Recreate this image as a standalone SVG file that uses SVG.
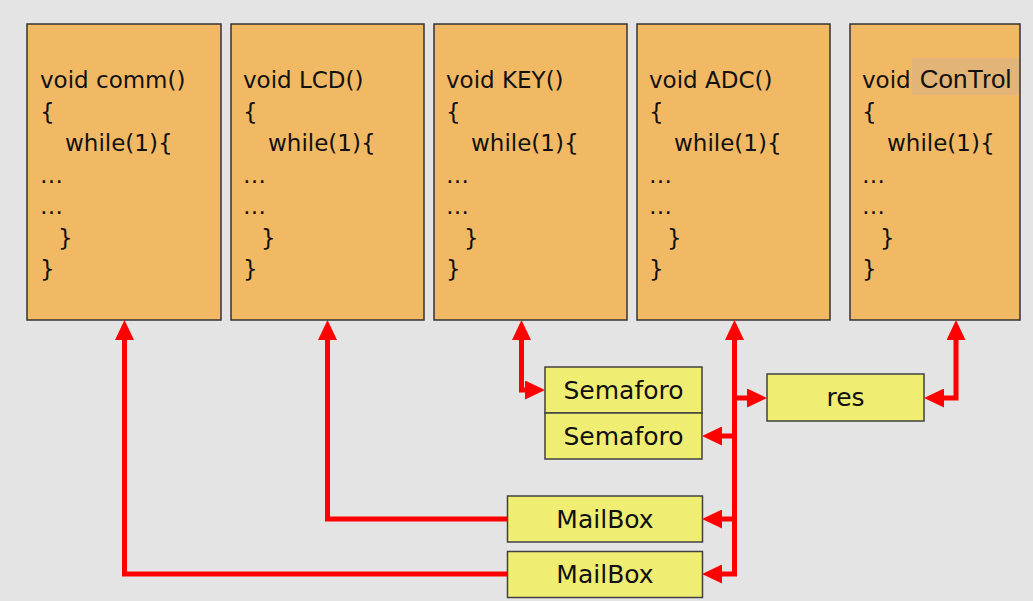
<svg xmlns="http://www.w3.org/2000/svg" width="1033" height="601" viewBox="0 0 1033 601">
<style>
.task{fill:#f1b964;stroke:#333;stroke-width:1.5}
.obj{fill:#f0ee72;stroke:#404040;stroke-width:1.5}
.code{font-family:"DejaVu Sans",Verdana,sans-serif;font-size:23px;fill:#111}
.lbl{font-family:"DejaVu Sans",Verdana,sans-serif;font-size:25px;fill:#111;text-anchor:middle}
.wire{fill:none;stroke:#ff0000;stroke-width:5;stroke-linejoin:miter}
</style>
<defs>
<marker id="ah" viewBox="0 0 20 19" refX="2" refY="9.5" markerWidth="20" markerHeight="19" markerUnits="userSpaceOnUse" orient="auto-start-reverse">
<path d="M0,0 L20,9.5 L0,19 z" fill="#ff0000"/>
</marker>
</defs>
<rect width="1033" height="601" fill="#e4e4e4"/>

<g id="task-comm">
<rect class="task" x="27" y="24" width="194" height="296"/>
<text class="code" x="40" y="88">void comm()</text>
<text class="code" x="40" y="119.5">{</text>
<text class="code" x="65" y="151">while(1){</text>
<text class="code" x="40" y="182.5">…</text>
<text class="code" x="40" y="214">…</text>
<text class="code" x="58" y="245.5">}</text>
<text class="code" x="40" y="277">}</text>
</g>
<g id="task-lcd">
<rect class="task" x="231" y="24" width="193" height="296"/>
<text class="code" x="243" y="88">void LCD()</text>
<text class="code" x="243" y="119.5">{</text>
<text class="code" x="268" y="151">while(1){</text>
<text class="code" x="243" y="182.5">…</text>
<text class="code" x="243" y="214">…</text>
<text class="code" x="261" y="245.5">}</text>
<text class="code" x="243" y="277">}</text>
</g>
<g id="task-key">
<rect class="task" x="434" y="24" width="193" height="296"/>
<text class="code" x="446" y="88">void KEY()</text>
<text class="code" x="446" y="119.5">{</text>
<text class="code" x="471" y="151">while(1){</text>
<text class="code" x="446" y="182.5">…</text>
<text class="code" x="446" y="214">…</text>
<text class="code" x="464" y="245.5">}</text>
<text class="code" x="446" y="277">}</text>
</g>
<g id="task-adc">
<rect class="task" x="637" y="24" width="193" height="296"/>
<text class="code" x="649" y="88">void ADC()</text>
<text class="code" x="649" y="119.5">{</text>
<text class="code" x="674" y="151">while(1){</text>
<text class="code" x="649" y="182.5">…</text>
<text class="code" x="649" y="214">…</text>
<text class="code" x="667" y="245.5">}</text>
<text class="code" x="649" y="277">}</text>
</g>
<g id="task-control">
<rect class="task" x="850" y="24" width="170" height="296"/>
<text class="code" x="862" y="88">void</text>
<rect x="912" y="58" width="107" height="37" fill="#e3b477"/>
<text x="965.5" y="88" font-family="'Liberation Sans',Arial,sans-serif" font-size="26" fill="#111" text-anchor="middle">ConTrol</text>
<text class="code" x="862" y="119.5">{</text>
<text class="code" x="887" y="151">while(1){</text>
<text class="code" x="862" y="182.5">…</text>
<text class="code" x="862" y="214">…</text>
<text class="code" x="880" y="245.5">}</text>
<text class="code" x="862" y="277">}</text>
</g>

<g id="sem1">
<rect class="obj" x="545" y="367" width="157" height="46"/>
<text class="lbl" x="623.5" y="399">Semaforo</text>
</g>
<g id="sem2">
<rect class="obj" x="545" y="413" width="157" height="46"/>
<text class="lbl" x="623.5" y="445">Semaforo</text>
</g>
<g id="res">
<rect class="obj" x="767" y="374" width="157" height="47"/>
<text class="lbl" x="845.5" y="406">res</text>
</g>
<g id="mailbox1">
<rect class="obj" x="507.5" y="496" width="195" height="46"/>
<text class="lbl" x="605" y="528">MailBox</text>
</g>
<g id="mailbox2">
<rect class="obj" x="507.5" y="551.5" width="195" height="46"/>
<text class="lbl" x="605" y="583">MailBox</text>
</g>

<g id="connectors">
<path class="wire" d="M507.5,574 H124.5 V338" marker-end="url(#ah)"/>
<path class="wire" d="M507.5,519 H327.5 V338" marker-end="url(#ah)"/>
<path class="wire" d="M521.5,338 V390 H527" marker-start="url(#ah)" marker-end="url(#ah)"/>
<path class="wire" d="M734.5,338 V574 H720" marker-start="url(#ah)" marker-end="url(#ah)"/>
<path class="wire" d="M734.5,398 H749" marker-end="url(#ah)"/>
<path class="wire" d="M734.5,436 H720" marker-end="url(#ah)"/>
<path class="wire" d="M734.5,519 H720" marker-end="url(#ah)"/>
<path class="wire" d="M956,338 V398 H942" marker-start="url(#ah)" marker-end="url(#ah)"/>
</g>
</svg>
